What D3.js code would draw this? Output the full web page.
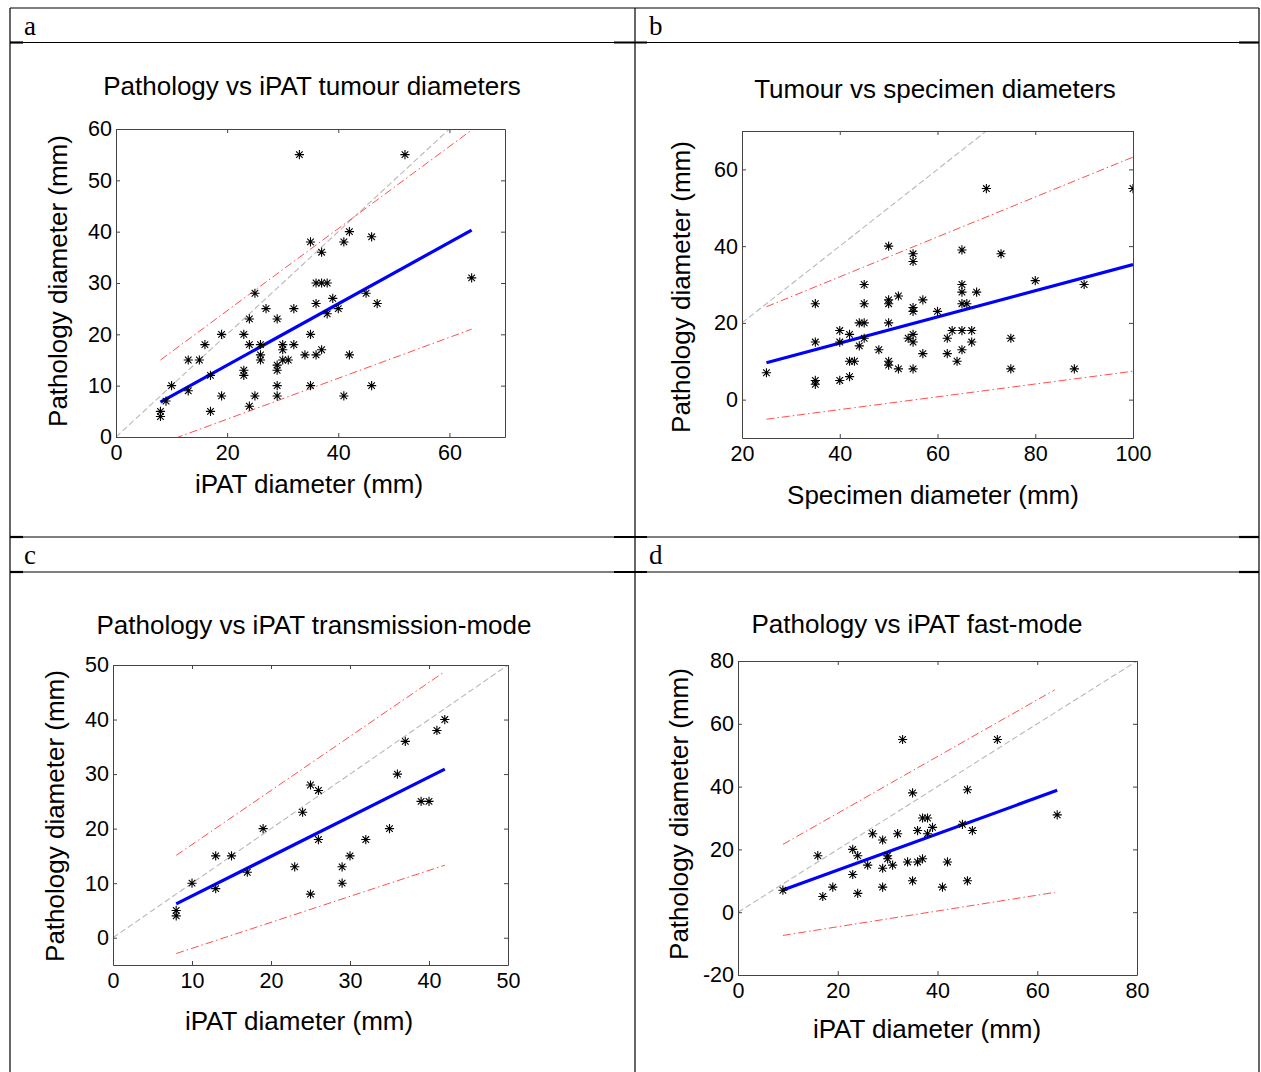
<!DOCTYPE html>
<html>
<head>
<meta charset="utf-8">
<script src="https://cdn.jsdelivr.net/npm/d3@7"></script>
<style>
  body { margin: 0; background: #fff; }
  svg { display: block; }
  text { font-family: "Liberation Sans", Arial, Helvetica, sans-serif; fill: #000; }
  .cap { font-family: "Liberation Serif", "Times New Roman", serif; }
</style>
</head>
<body>
<svg id="fig" width="1261" height="1072"></svg>
<script>
// ---- a: pathology vs iPAT tumour diameters ----
const ipatA = [33,52,42,46,35,41,37,64,36,37,38,25,45,39,36,47,27,32,40,38,24,29,19,23,35,16,24,26,30,32,30,37,26,34,36,42,13,15,26,30,31,29,29,23,23,17,10,29,35,46,13,9,19,25,29,41,24,17,8,8];
const pathA = [55,55,40,39,38,38,36,31,30,30,30,28,28,27,26,26,25,25,25,24,23,23,20,20,20,18,18,18,18,18,17,17,16,16,16,16,15,15,15,15,15,14,13,13,12,12,10,10,10,10,9,7,8,8,8,8,6,5,5,4];
const fitA = [[8, 6.8], [64, 40.3]];
const upperA = [[8, 15.0], [64, 59.8]];
const lowerA = [[8, -1.3], [64, 21.0]];

// ---- b: tumour vs specimen diameters ----
const specimenB = [25,35,35,35,35,40,40,40,42,42,42,43,44,44,45,45,45,45,48,50,50,50,50,50,50,52,52,54,55,55,55,55,55,55,55,57,57,60,62,62,63,64,65,65,65,65,66,65,65,67,67,68,70,73,75,75,80,88,90,100];
const tumourB = [7,25,15,5,4,18,15,5,17,10,6,10,20,14,30,25,20,16,13,40,26,25,20,10,9,27,8,16,38,36,24,23,17,15,8,26,12,23,16,12,18,10,39,30,28,25,25,18,13,18,15,28,55,38,16,8,31,8,30,55];
const fitB = [[25, 9.6], [100, 35.2]];
const upperB = [[25, 24.2], [100, 63.2]];
const lowerB = [[25, -5.1], [100, 7.4]];

// ---- c: pathology vs iPAT transmission-mode ----
const ipatC = [8,8,10,13,13,15,17,19,23,24,25,26,26,25,29,29,30,32,35,36,37,39,40,41,42];
const pathC = [5,4,10,15,9,15,12,20,13,23,28,27,18,8,13,10,15,18,20,30,36,25,25,38,40];
const fitC = [[8, 6.2], [42, 30.9]];
const upperC = [[8, 15.1], [42, 48.8]];
const lowerC = [[8, -2.9], [42, 13.3]];

// ---- d: pathology vs iPAT fast-mode ----
const ipatD = [9,16,17,19,23,24,23,24,26,27,29,29,29,30,30,31,32,33,34,35,35,36,36,37,37,38,39,38,41,42,45,46,46,47,52,64];
const pathD = [7,18,5,8,20,18,12,6,15,25,23,14,8,18,17,15,25,55,16,38,10,26,16,17,30,30,27,25,8,16,28,39,10,26,55,31];
const fitD = [[9, 7.1], [64, 38.8]];
const upperD = [[9, 21.6], [63.5, 70.8]];
const lowerD = [[9, -7.4], [63.5, 6.3]];

// axis tick values
const xTicksA = [0, 20, 40, 60],          yTicksA = [0, 10, 20, 30, 40, 50, 60];
const xTicksB = [20, 40, 60, 80, 100],    yTicksB = [0, 20, 40, 60];
const xTicksC = [0, 10, 20, 30, 40, 50],  yTicksC = [0, 10, 20, 30, 40, 50];
const xTicksD = [0, 20, 40, 60, 80],      yTicksD = [-20, 0, 20, 40, 60, 80];

const panels = [
  { id: "a", title: "Pathology vs iPAT tumour diameters", xLabel: "iPAT diameter (mm)", yLabel: "Pathology diameter (mm)",
    xs: ipatA, ys: pathA, fit: fitA, upper: upperA, lower: lowerA,
    xDomain: [0, 70], yDomain: [0, 60], xTicks: xTicksA, yTicks: yTicksA,
    box: { l: 116, r: 505, t: 129, b: 437 }, titleAt: [312, 95], xLabelAt: [309, 493], yLabelAt: [67, 281] },
  { id: "b", title: "Tumour vs specimen diameters", xLabel: "Specimen diameter (mm)", yLabel: "Pathology diameter (mm)",
    xs: specimenB, ys: tumourB, fit: fitB, upper: upperB, lower: lowerB,
    xDomain: [20, 100], yDomain: [-10, 70], xTicks: xTicksB, yTicks: yTicksB,
    box: { l: 742, r: 1133, t: 131, b: 438 }, titleAt: [935, 98], xLabelAt: [933, 504], yLabelAt: [690, 287] },
  { id: "c", title: "Pathology vs iPAT transmission-mode", xLabel: "iPAT diameter (mm)", yLabel: "Pathology diameter (mm)",
    xs: ipatC, ys: pathC, fit: fitC, upper: upperC, lower: lowerC,
    xDomain: [0, 50], yDomain: [-5, 50], xTicks: xTicksC, yTicks: yTicksC,
    box: { l: 113, r: 508, t: 665, b: 965 }, titleAt: [314, 634], xLabelAt: [299, 1030], yLabelAt: [64, 816] },
  { id: "d", title: "Pathology vs iPAT fast-mode", xLabel: "iPAT diameter (mm)", yLabel: "Pathology diameter (mm)",
    xs: ipatD, ys: pathD, fit: fitD, upper: upperD, lower: lowerD,
    xDomain: [0, 80], yDomain: [-20, 80], xTicks: xTicksD, yTicks: yTicksD,
    box: { l: 738, r: 1137, t: 661, b: 975 }, titleAt: [917, 633], xLabelAt: [927, 1038], yLabelAt: [688, 814] }
];

const svg = d3.select("#fig");

// ---- surrounding table (Word-style cells with letters) ----
const grid = svg.append("g").attr("stroke", "#000").attr("stroke-width", 1.2).attr("fill", "none");
const L = 10, R = 1259, M = 635, T = 8;
[[L, T, R, T], [L, 42.5, R, 42.5], [L, 537, R, 537], [L, 572, R, 572],
 [L, T, L, 1072], [M, T, M, 1072], [R, T, R, 1072]].forEach(s =>
  grid.append("line").attr("x1", s[0]).attr("y1", s[1]).attr("x2", s[2]).attr("y2", s[3]));
// thicker stubs where cell borders overlap
const stubs = svg.append("g").attr("stroke", "#000").attr("stroke-width", 2.2);
[[L, 23, 42.5], [614, 647, 42.5], [1239, R, 42.5],
 [L, 23, 537], [614, 647, 537], [1239, R, 537],
 [L, 23, 572], [614, 647, 572], [1239, R, 572]].forEach(s =>
  stubs.append("line").attr("x1", s[0]).attr("x2", s[1]).attr("y1", s[2]).attr("y2", s[2]));
[["a", 24, 35], ["b", 649, 35], ["c", 24, 564], ["d", 649, 564]].forEach(c =>
  svg.append("text").attr("class", "cap").attr("x", c[1]).attr("y", c[2])
    .style("font-size", "27px").text(c[0]));

// MATLAB-style '*' marker: plus + cross
const starPath = (() => {
  const a = 4.6, d = 3.3;
  return `M${-a},0L${a},0M0,${-a}L0,${a}M${-d},${-d}L${d},${d}M${-d},${d}L${d},${-d}`;
})();

// integer tick labels with a plain hyphen for negatives
const tickFmt = v => String(v);

panels.forEach(p => {
  const { l, r, t, b } = p.box;
  const x = d3.scaleLinear().domain(p.xDomain).range([l, r]);
  const y = d3.scaleLinear().domain(p.yDomain).range([b, t]);
  const g = svg.append("g");

  g.append("defs").append("clipPath").attr("id", "clip-" + p.id)
    .append("rect").attr("x", l).attr("y", t).attr("width", r - l).attr("height", b - t);
  g.append("rect").attr("x", l).attr("y", t).attr("width", r - l).attr("height", b - t).attr("fill", "#fff");

  const plot = g.append("g").attr("clip-path", `url(#clip-${p.id})`);
  const line = d3.line().x(d => x(d[0])).y(d => y(d[1]));

  // identity line y = x across the x range
  const idLine = [[p.xDomain[0], p.xDomain[0]], [p.xDomain[1], p.xDomain[1]]];
  plot.append("path").attr("d", line(idLine)).attr("fill", "none")
    .attr("stroke", "#b8b8b8").attr("stroke-width", 1.1).attr("stroke-dasharray", "6,3");

  // limits of agreement
  [p.upper, p.lower].forEach(seg =>
    plot.append("path").attr("d", line(seg)).attr("fill", "none")
      .attr("stroke", "#ff3030").attr("stroke-width", 1).attr("stroke-opacity", 0.85)
      .attr("stroke-dasharray", "8,3,1.5,3"));

  // regression fit
  plot.append("path").attr("d", line(p.fit)).attr("fill", "none")
    .attr("stroke", "#0000ff").attr("stroke-width", 3.2);

  // data points
  plot.selectAll("path.pt").data(d3.zip(p.xs, p.ys)).join("path").attr("class", "pt")
    .attr("transform", d => `translate(${x(d[0])},${y(d[1])})`)
    .attr("d", starPath).attr("fill", "none").attr("stroke", "#000").attr("stroke-width", 1.1);

  // axes with inward ticks, mirrored on top/right
  const styleAxis = sel => {
    sel.select(".domain").attr("stroke", "#444");
    sel.selectAll(".tick line").attr("stroke", "#444");
    sel.selectAll("text").style("font-size", "21.5px").attr("fill", "#000");
  };
  g.append("g").attr("transform", `translate(0,${b})`)
    .call(d3.axisBottom(x).tickValues(p.xTicks).tickSize(-4).tickSizeOuter(0).tickPadding(8).tickFormat(tickFmt))
    .call(styleAxis);
  g.append("g").attr("transform", `translate(${l},0)`)
    .call(d3.axisLeft(y).tickValues(p.yTicks).tickSize(-4).tickSizeOuter(0).tickPadding(4).tickFormat(tickFmt))
    .call(styleAxis);
  g.append("g").attr("transform", `translate(0,${t})`)
    .call(d3.axisTop(x).tickValues(p.xTicks).tickSize(-4).tickSizeOuter(0).tickFormat(""))
    .call(styleAxis);
  g.append("g").attr("transform", `translate(${r},0)`)
    .call(d3.axisRight(y).tickValues(p.yTicks).tickSize(-4).tickSizeOuter(0).tickFormat(""))
    .call(styleAxis);
  g.selectAll(".tick text").style("font-family", "'Liberation Sans', Arial, sans-serif");

  // titles and labels
  g.append("text").attr("x", p.titleAt[0]).attr("y", p.titleAt[1]).attr("text-anchor", "middle")
    .style("font-size", "26px").text(p.title);
  g.append("text").attr("x", p.xLabelAt[0]).attr("y", p.xLabelAt[1]).attr("text-anchor", "middle")
    .style("font-size", "26px").text(p.xLabel);
  g.append("text").attr("transform", `translate(${p.yLabelAt[0]},${p.yLabelAt[1]}) rotate(-90)`)
    .attr("text-anchor", "middle").style("font-size", "26px").text(p.yLabel);
});
</script>
</body>
</html>
